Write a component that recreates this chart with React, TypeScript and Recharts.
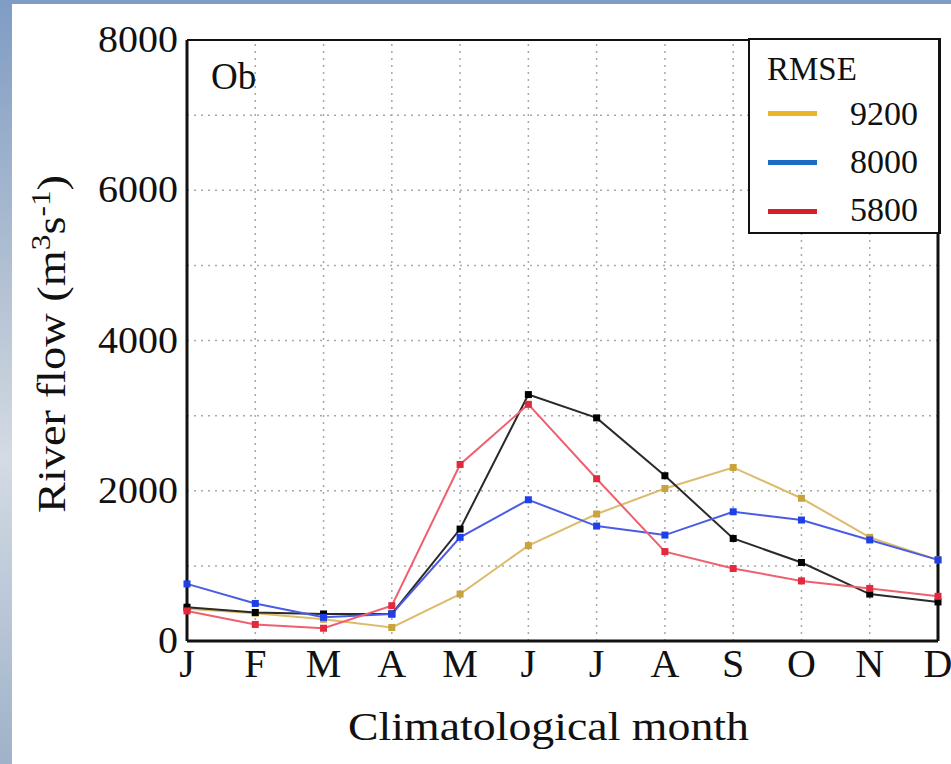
import React from "react";
import {
  LineChart,
  Line,
  XAxis,
  YAxis,
  CartesianGrid,
  ReferenceLine,
} from "recharts";

const MONTHS = ["J", "F", "M", "A", "M", "J", "J", "A", "S", "O", "N", "D"];
const OBSERVED = [450, 380, 360, 360, 1490, 3280, 2970, 2200, 1365, 1045, 625, 520];
const RMSE_9200 = [430, 370, 290, 180, 625, 1270, 1690, 2030, 2310, 1900, 1380, 1080];
const RMSE_8000 = [760, 500, 315, 360, 1380, 1880, 1530, 1410, 1720, 1610, 1345, 1080];
const RMSE_5800 = [400, 220, 170, 470, 2350, 3150, 2160, 1190, 965, 800, 700, 595];
const Y_TICKS = [0, 1000, 2000, 3000, 4000, 5000, 6000, 7000, 8000];

const SERIES = [
  { key: "y9200", label: "9200", line: "#dcbc6c", mark: "#c9a43c", legend: "#ebb52a" },
  { key: "obs", label: "", line: "#2a2a2a", mark: "#000000", legend: "" },
  { key: "y8000", label: "8000", line: "#4a5ce6", mark: "#1f3fe8", legend: "#1b6cc4" },
  { key: "y5800", label: "5800", line: "#ee6070", mark: "#e22a3c", legend: "#d81e2a" },
];

const data = MONTHS.map((m, i) => ({
  idx: i,
  month: m,
  obs: OBSERVED[i],
  y9200: RMSE_9200[i],
  y8000: RMSE_8000[i],
  y5800: RMSE_5800[i],
}));

const SERIF = "Liberation Serif";
const GRID = "#a8a8a8";

function SquareDot(color: string) {
  return (props: any) => {
    const { cx, cy, index } = props;
    if (cx == null || cy == null) return <g key={`d-${index}`} />;
    return (
      <rect key={`d-${index}`} x={cx - 3.5} y={cy - 3.5} width={7} height={7} fill={color} />
    );
  };
}

function YTick(props: any) {
  const { x, y, payload } = props;
  if (payload.value % 2000 !== 0) return <g />;
  const s = String(payload.value);
  return (
    <text
      x={x}
      y={y + 12}
      textAnchor="end"
      style={{ fontFamily: SERIF }}
      fontSize={37}
      fill="#111"
      textLength={s.length * 20}
      lengthAdjust="spacingAndGlyphs"
    >
      {s}
    </text>
  );
}

function XTick(props: any) {
  const { x, y, payload } = props;
  return (
    <text x={x} y={y + 34} textAnchor="middle" style={{ fontFamily: SERIF }} fontSize={40} fill="#111">
      {MONTHS[payload.value]}
    </text>
  );
}

export default function App() {
  return (
    <div
      style={{
        position: "absolute",
        left: 0,
        top: 0,
        width: 951,
        height: 764,
        background: "linear-gradient(180deg, #7f9cc4 0%, #b7c4d4 40%, #d3dbe4 60%, #9fb2c9 100%)",
        overflow: "hidden",
        fontFamily: SERIF,
      }}
    >
      <div
        style={{
          position: "absolute",
          left: 12,
          top: 4,
          width: 939,
          height: 760,
          background: "#ffffff",
        }}
      />
      <div style={{ position: "absolute", left: 0, top: 0 }}>
        <LineChart
          width={951}
          height={764}
          data={data}
          margin={{ top: 40, right: 13, left: 0, bottom: 0 }}
        >
          <CartesianGrid stroke={GRID} strokeDasharray="2 5" strokeWidth={1.5} vertical={false} />
          {MONTHS.map((_, i) =>
            i > 0 && i < 11 ? (
              <ReferenceLine
                key={`v-${i}`}
                x={i}
                stroke={GRID}
                strokeDasharray="2 5"
                strokeWidth={1.5}
              />
            ) : null
          )}
          <XAxis
            dataKey="idx"
            type="number"
            domain={[0, 11]}
            ticks={MONTHS.map((_, i) => i)}
            height={123}
            tickLine={false}
            tickSize={0}
            axisLine={{ stroke: "#111", strokeWidth: 3 }}
            tick={<XTick />}
            interval={0}
          />
          <YAxis
            domain={[0, 8000]}
            ticks={Y_TICKS}
            width={187}
            tickLine={false}
            tickSize={0}
            tickMargin={9}
            axisLine={{ stroke: "#111", strokeWidth: 3 }}
            tick={<YTick />}
            interval={0}
          />
          <ReferenceLine y={8000} stroke="#111" strokeWidth={2} />
          <ReferenceLine x={11} stroke="#111" strokeWidth={3} />
          {SERIES.map((s) => (
            <Line
              key={s.key}
              dataKey={s.key}
              stroke={s.line}
              strokeWidth={2}
              dot={SquareDot(s.mark)}
              activeDot={false}
              isAnimationActive={false}
            />
          ))}
        </LineChart>
      </div>

      {/* panel name */}
      <div
        style={{
          position: "absolute",
          left: 211,
          top: 56,
          fontSize: 37,
          color: "#111",
          lineHeight: "42px",
        }}
      >
        Ob
      </div>

      {/* legend box */}
      <div
        style={{
          position: "absolute",
          left: 748,
          top: 38,
          width: 188,
          height: 192,
          border: "2px solid #111",
          borderRightWidth: 3,
          background: "#ffffff",
          color: "#111",
        }}
      >
        <div style={{ position: "absolute", left: 17, top: 11, fontSize: 33, lineHeight: "36px" }}>
          RMSE
        </div>
        {SERIES.filter((s) => s.label).map((s, i) => (
          <div key={s.key}>
            <div
              style={{
                position: "absolute",
                left: 18,
                top: 71 + i * 49,
                width: 49,
                height: 5,
                background: s.legend,
              }}
            />
            <div
              style={{
                position: "absolute",
                left: 100,
                top: 56 + i * 48,
                fontSize: 34,
                lineHeight: "36px",
              }}
            >
              {s.label}
            </div>
          </div>
        ))}
      </div>

      {/* axis titles */}
      <svg
        width={951}
        height={764}
        style={{ position: "absolute", left: 0, top: 0, overflow: "visible" }}
      >
        <text
          x={348}
          y={740}
          style={{ fontFamily: SERIF }}
          fontSize={39}
          fill="#111"
          textLength={401}
          lengthAdjust="spacingAndGlyphs"
        >
          Climatological month
        </text>
        <text
          transform="translate(65 344) rotate(-90)"
          textAnchor="middle"
          style={{ fontFamily: SERIF }}
          fontSize={40}
          fill="#111"
          textLength={338}
          lengthAdjust="spacingAndGlyphs"
        >
          River flow (m
          <tspan dy={-15} fontSize={27}>3</tspan>
          <tspan dy={15}>s</tspan>
          <tspan dy={-15} fontSize={27}>-1</tspan>
          <tspan dy={15}>)</tspan>
        </text>
      </svg>
    </div>
  );
}
